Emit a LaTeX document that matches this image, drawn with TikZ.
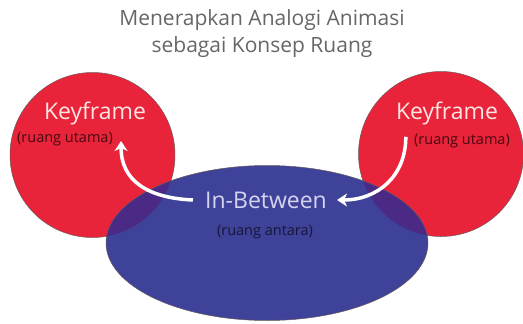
\documentclass[tikz,border=0pt]{standalone}
\usepackage{fontspec}
\setmainfont{Open Sans}
\usetikzlibrary{shapes.geometric,arrows.meta}
\definecolor{kred}{HTML}{E8233A}
\definecolor{kblue}{HTML}{3F4299}
\definecolor{kover}{HTML}{4A2A85}
\definecolor{ktitle}{HTML}{666666}
\definecolor{kline}{HTML}{6A5A5A}
\definecolor{kpink}{HTML}{FCE6E4}
\definecolor{klav}{HTML}{D4D4F0}
\tikzset{
  redball/.style={circle, draw=kline, line width=0.5pt, fill=kred, minimum size=165pt, inner sep=0pt},
  blueoval/.style={ellipse, draw=kline, line width=0.5pt, fill=kblue, minimum width=322pt, minimum height=155pt, inner sep=0pt},
  kflabel/.style={text=kpink, font=\fontsize{23}{26}\selectfont, inner sep=0pt},
  iblabel/.style={text=klav, font=\fontsize{23}{26}\selectfont, inner sep=0pt},
  sublabel/.style={text=#1, font=\fontsize{14.5}{16}\selectfont, inner sep=0pt},
  titlelabel/.style={text=ktitle, font=\fontsize{21}{27}\selectfont, align=center, inner sep=0pt},
  arr/.style={draw=white, line width=3.5pt, -{Stealth[length=10pt,width=13pt,inset=3pt]}}
}
\begin{document}
\begin{tikzpicture}[x=1pt,y=-1pt]
\useasboundingbox (0,0) rectangle (523,324);
\node[titlelabel] (title) at (262,34) {Menerapkan Analogi Animasi\\sebagai Konsep Ruang};
\node[redball] (cL) at (92.5,155) {};
\node[redball] (cR) at (441,154) {};
\node[blueoval] (ov) at (267,243) {};
\begin{scope}
  \clip (267,243) ellipse [x radius=160.5pt, y radius=77pt];
  \fill[kover] (92.5,155) circle [radius=82.5pt];
  \fill[kover] (441,154) circle [radius=82.5pt];
\end{scope}
\node[kflabel] (kfL) at (95,113) {Keyframe};
\node[sublabel=black!70!kred] (subL) at (65,139) {(ruang utama)};
\node[kflabel] (kfR) at (447,113) {Keyframe};
\node[sublabel=black!70!kred] (subR) at (462,141) {(ruang utama)};
\node[iblabel] (ib) at (266,200) {In-Between};
\node[sublabel=black!65!kblue] (subM) at (265,232) {(ruang antara)};
\draw[arr] ([xshift=-12pt]ib.west) .. controls +(-45,-2) and +(0,40) .. ([xshift=8pt,yshift=-2pt]subL.east);
\draw[arr] ([shift={(10,12)}]kfR.south west) .. controls +(0,40) and +(40,0) .. ([xshift=10pt]ib.east);
\end{tikzpicture}
\end{document}
